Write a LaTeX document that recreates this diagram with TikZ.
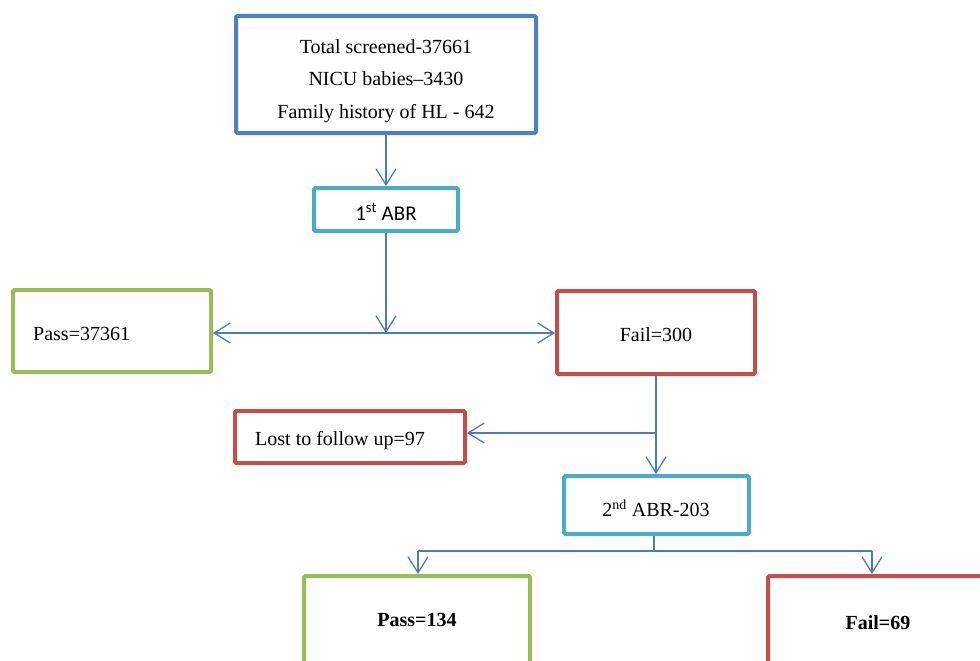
\documentclass[tikz,border=0pt]{standalone}
\usepackage{fontspec}
\setmainfont{Liberation Serif}
\newfontfamily\calib{Carlito}
\usetikzlibrary{arrows.meta}
\definecolor{cblue}{HTML}{4F81BD}
\definecolor{ccyan}{HTML}{4BACC6}
\definecolor{cgreen}{HTML}{9BBB59}
\definecolor{cred}{HTML}{C0504D}
\definecolor{cline}{HTML}{4A7EBB}
\begin{document}
\begin{tikzpicture}[x=1pt,y=-1pt,
 box/.style={draw, line width=4pt, rounded corners=1.5pt, fill=white, inner sep=0pt},
 conn/.style={draw=cline, line width=1.3pt},
 arr/.style={conn, -{Straight Barb[length=16pt,width=20pt,line width=1.3pt]}},
 dbl/.style={conn, {Straight Barb[length=16pt,width=20pt,line width=1.3pt]}-{Straight Barb[length=16pt,width=20pt,line width=1.3pt]}},
 txt/.style={font=\fontsize{20}{24}\selectfont, inner sep=0pt},
 btxt/.style={font=\fontsize{20}{24}\selectfont\bfseries, inner sep=0pt}]
\useasboundingbox (0,0) rectangle (980,661);
\clip (0,0) rectangle (980,661);
\fill[white] (0,0) rectangle (980,661);

% boxes
\node[box, draw=cblue, minimum width=300pt, minimum height=117pt] (top) at (386,74.5) {};
\node[txt, align=center, font=\fontsize{20}{32.5}\selectfont] (toptxt) at (386,81) {Total screened-37661\\NICU babies--3430\\Family history of HL - 642};

\node[box, draw=ccyan, minimum width=144pt, minimum height=43pt] (abr1) at (386,209.5) {};
\node[inner sep=0pt, font=\calib\fontsize{21}{24}\selectfont] (abr1txt) at (386,212) {1\textsuperscript{st} ABR};

\node[box, draw=cgreen, minimum width=198pt, minimum height=82pt] (pass) at (112,331) {};
\node[txt, anchor=west] (passtxt) at (33,334) {Pass=37361};

\node[box, draw=cred, minimum width=198pt, minimum height=83pt] (fail) at (656,332.5) {};
\node[txt] (failtxt) at (656,335) {Fail=300};

\node[box, draw=cred, minimum width=230pt, minimum height=52pt] (lost) at (350,437) {};
\node[txt, anchor=west] (losttxt) at (255,441) {Lost to follow up=97};

\node[box, draw=ccyan, minimum width=185pt, minimum height=58pt] (abr2) at (656.5,505) {};
\node[txt] (abr2txt) at (656,508) {2\textsuperscript{nd} ABR-203};

\node[box, draw=cgreen, minimum width=226pt, minimum height=120pt] (pass2) at (417,636) {};
\node[btxt] (pass2txt) at (417,620) {Pass=134};

\node[box, draw=cred, minimum width=230pt, minimum height=120pt] (fail2) at (883,636) {};
\node[btxt] (fail2txt) at (878,623) {Fail=69};

% connectors
\draw[arr] (top.south) -- (abr1.north);
\coordinate (j1) at (386,333);
\draw[arr] (abr1.south) -- (j1);
\draw[dbl] (pass.east |- j1) -- (fail.west |- j1);

\coordinate (j2) at (656,433);
\draw[arr] (fail.south) -- (fail.south |- abr2.north);
\draw[arr] (j2) -- (lost.east |- j2);

\coordinate (j3) at (654,551);
\coordinate (jl) at (418,551);
\coordinate (jr) at (872,551);
\draw[conn] (abr2.south -| j3) -- (j3);
\draw[conn] (jl) -- (jr);
\draw[arr] (jl) -- (jl |- pass2.north);
\draw[arr] (jr) -- (jr |- fail2.north);
\end{tikzpicture}
\end{document}
